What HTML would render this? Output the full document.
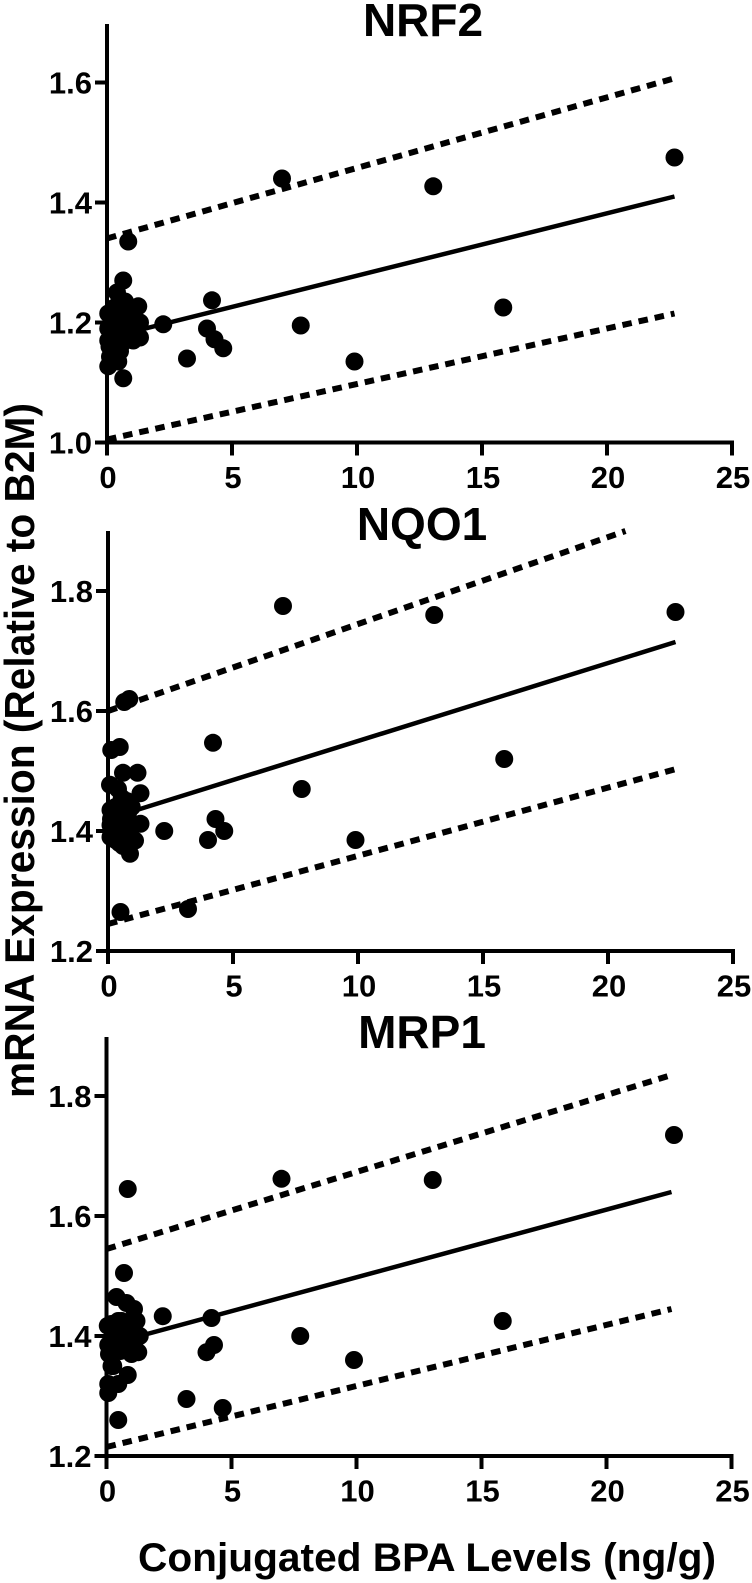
<!DOCTYPE html>
<html lang="en">
<head>
<meta charset="utf-8">
<title>mRNA expression vs conjugated BPA levels</title>
<style>
html,body{margin:0;padding:0;background:#fff;width:752px;height:1583px;overflow:hidden}
svg{display:block}
text{font-family:"Liberation Sans",Arial,sans-serif;font-weight:700;fill:#000}
</style>
</head>
<body>
<svg id="chart" width="752" height="1583" viewBox="0 0 752 1583" xmlns="http://www.w3.org/2000/svg">
  <rect width="752" height="1583" fill="#fff"/>
  <text transform="translate(34,1098) rotate(-90)" font-size="42" textLength="695" lengthAdjust="spacingAndGlyphs">mRNA Expression (Relative to B2M)</text>
  <text x="138" y="1571" font-size="40" textLength="578" lengthAdjust="spacingAndGlyphs">Conjugated BPA Levels (ng/g)</text>
  <g id="panels"></g>
</svg>
<script>
// X axis shared by all panels
const xTicks = [0, 5, 10, 15, 20, 25];

// NRF2
const nrf2Title = "NRF2";
const nrf2YTicks = [1.0, 1.2, 1.4, 1.6];
const nrf2X = [22.7,15.85,13.05,9.9,7.75,7.0,4.65,4.3,4.2,4.0,3.2,2.25,.65,.85,.65,1.25,1.32,1.32,1.05,.05,.12,.45,.52,.4,.72,.05,.05,.05,.1,.2,.25,.3,.35,.45,.5,.55,.6,.7,.8,.85,.95,1.0,1.1,.3];
const nrf2Y = [1.475,1.225,1.427,1.135,1.195,1.44,1.157,1.172,1.237,1.19,1.14,1.197,1.27,1.335,1.107,1.227,1.2,1.175,1.17,1.127,1.143,1.135,1.152,1.25,1.235,1.215,1.19,1.17,1.16,1.2,1.175,1.225,1.155,1.2,1.18,1.22,1.165,1.2,1.18,1.215,1.195,1.225,1.2,1.19];
const nrf2FitX = [0, 22.7];
const nrf2Fit = [1.174, 1.41];
const nrf2UpperX = [0, 22.7];
const nrf2Upper = [1.34, 1.607];
const nrf2LowerX = [0, 22.7];
const nrf2Lower = [1.005, 1.215];

// NQO1
const nqo1Title = "NQO1";
const nqo1YTicks = [1.2, 1.4, 1.6, 1.8];
const nqo1X = [22.7,15.85,13.05,9.9,7.75,7.0,4.65,4.3,4.2,4.0,3.2,2.25,.85,.65,.5,.13,.47,1.18,.6,.08,1.3,1.3,1.08,.88,.4,.55,.75,.3,.5,.1,.1,.1,.12,.2,.3,.45,.6,.7,.8,.95,.5,.7,.35,.9];
const nqo1Y = [1.765,1.52,1.76,1.385,1.47,1.775,1.4,1.42,1.547,1.385,1.27,1.4,1.62,1.615,1.265,1.535,1.54,1.497,1.497,1.477,1.463,1.412,1.384,1.362,1.47,1.455,1.45,1.44,1.43,1.435,1.41,1.39,1.42,1.4,1.385,1.38,1.375,1.4,1.43,1.44,1.405,1.42,1.42,1.39];
const nqo1FitX = [0, 22.7];
const nqo1Fit = [1.42, 1.715];
const nqo1UpperX = [0, 20.7];
const nqo1Upper = [1.6, 1.9];
const nqo1LowerX = [0, 22.7];
const nqo1Lower = [1.245, 1.503];

// MRP1
const mrp1Title = "MRP1";
const mrp1YTicks = [1.2, 1.4, 1.6, 1.8];
const mrp1X = [22.7,15.85,13.05,9.9,7.75,7.0,4.65,4.3,4.2,4.0,3.2,2.25,.85,.7,.47,.4,.8,1.1,1.2,1.33,1.27,1.0,.47,.85,.07,.07,.47,.27,.05,.07,.1,.55,.2,.3,.4,.55,.7,.8,1.05,.25,.2,.6,.9];
const mrp1Y = [1.735,1.425,1.66,1.36,1.4,1.662,1.28,1.385,1.43,1.373,1.295,1.433,1.645,1.505,1.26,1.465,1.455,1.445,1.425,1.4,1.373,1.37,1.425,1.335,1.305,1.32,1.32,1.35,1.417,1.385,1.37,1.375,1.42,1.4,1.385,1.4,1.41,1.39,1.4,1.375,1.35,1.425,1.42];
const mrp1FitX = [0, 22.6];
const mrp1Fit = [1.385, 1.64];
const mrp1UpperX = [0, 22.6];
const mrp1Upper = [1.545, 1.835];
const mrp1LowerX = [0, 22.6];
const mrp1Lower = [1.215, 1.445];

const NS = "http://www.w3.org/2000/svg";
const root = document.getElementById("panels");

function addLine(parent, x1, y1, x2, y2, w, dash) {
  const l = document.createElementNS(NS, "line");
  l.setAttribute("x1", x1);
  l.setAttribute("y1", y1);
  l.setAttribute("x2", x2);
  l.setAttribute("y2", y2);
  l.setAttribute("stroke", "#000");
  l.setAttribute("stroke-width", w);
  if (dash) l.setAttribute("stroke-dasharray", dash);
  parent.appendChild(l);
  return l;
}

function addText(parent, str, x, y, size, anchor) {
  const t = document.createElementNS(NS, "text");
  t.setAttribute("x", x);
  t.setAttribute("y", y);
  t.setAttribute("font-size", size);
  t.setAttribute("text-anchor", anchor);
  t.textContent = str;
  parent.appendChild(t);
  return t;
}

function drawPanel(cfg) {
  const g = document.createElementNS(NS, "g");
  
  
  root.appendChild(g);

  const sx = v => cfg.x0 + (v - 0) * cfg.pxPerX;
  const sy = v => cfg.yBase - (v - cfg.yMin) * cfg.pxPerY;

  // title
  const title = addText(g, cfg.title, cfg.titleX, cfg.titleY, 46, "middle");
  
  

  // axes
  const yAxis = addLine(g, sx(0), cfg.yTop, sx(0), cfg.yBase + 2, 4);
  
  
  const xAxis = addLine(g, sx(0) - 2, cfg.yBase, sx(xTicks[xTicks.length - 1]) + 2, cfg.yBase, 4);
  
  

  xTicks.forEach(v => {
    const tick = addLine(g, sx(v), cfg.yBase, sx(v), cfg.yBase + 13, 4);
    
    
    const label = addText(g, String(v), sx(v) + 1, cfg.yBase + 45.5, 31, "middle");
    
    
  });

  cfg.yTicks.forEach(v => {
    const tick = addLine(g, sx(0) - 12, sy(v), sx(0), sy(v), 4);
    
    
    const label = addText(g, v.toFixed(1), sx(0) - 15, sy(v) + 11, 31, "end");
    
    
  });

  // regression line
  const fit = addLine(g, sx(cfg.fitX[0]), sy(cfg.fit[0]), sx(cfg.fitX[1]), sy(cfg.fit[1]), 4.5);
  
  

  const upper = addLine(g, sx(cfg.upperX[0]), sy(cfg.upper[0]), sx(cfg.upperX[1]), sy(cfg.upper[1]), 6, "9.5 7");
  
  

  const lower = addLine(g, sx(cfg.lowerX[0]), sy(cfg.lower[0]), sx(cfg.lowerX[1]), sy(cfg.lower[1]), 6, "9.5 7");
  
  

  // points
  cfg.xs.forEach((xv, i) => {
    const c = document.createElementNS(NS, "circle");
    c.setAttribute("cx", sx(xv));
    c.setAttribute("cy", sy(cfg.ys[i]));
    c.setAttribute("r", 9);
    c.setAttribute("fill", "#000");
    
    
    g.appendChild(c);
  });
}

drawPanel({slug:"nrf2", title:nrf2Title, titleX:423, titleY:36, x0:107, pxPerX:25, yBase:442.5, yMin:1.0, pxPerY:600, yTop:24,
  yTicks:nrf2YTicks, xs:nrf2X, ys:nrf2Y, fitX:nrf2FitX, fit:nrf2Fit, upperX:nrf2UpperX, upper:nrf2Upper, lowerX:nrf2LowerX, lower:nrf2Lower});
drawPanel({slug:"nqo1", title:nqo1Title, titleX:422, titleY:540, x0:108, pxPerX:25, yBase:951, yMin:1.2, pxPerY:600, yTop:531,
  yTicks:nqo1YTicks, xs:nqo1X, ys:nqo1Y, fitX:nqo1FitX, fit:nqo1Fit, upperX:nqo1UpperX, upper:nqo1Upper, lowerX:nqo1LowerX, lower:nqo1Lower});
drawPanel({slug:"mrp1", title:mrp1Title, titleX:422, titleY:1048, x0:106.5, pxPerX:25, yBase:1456, yMin:1.2, pxPerY:600, yTop:1037,
  yTicks:mrp1YTicks, xs:mrp1X, ys:mrp1Y, fitX:mrp1FitX, fit:mrp1Fit, upperX:mrp1UpperX, upper:mrp1Upper, lowerX:mrp1LowerX, lower:mrp1Lower});
</script>
</body>
</html>
